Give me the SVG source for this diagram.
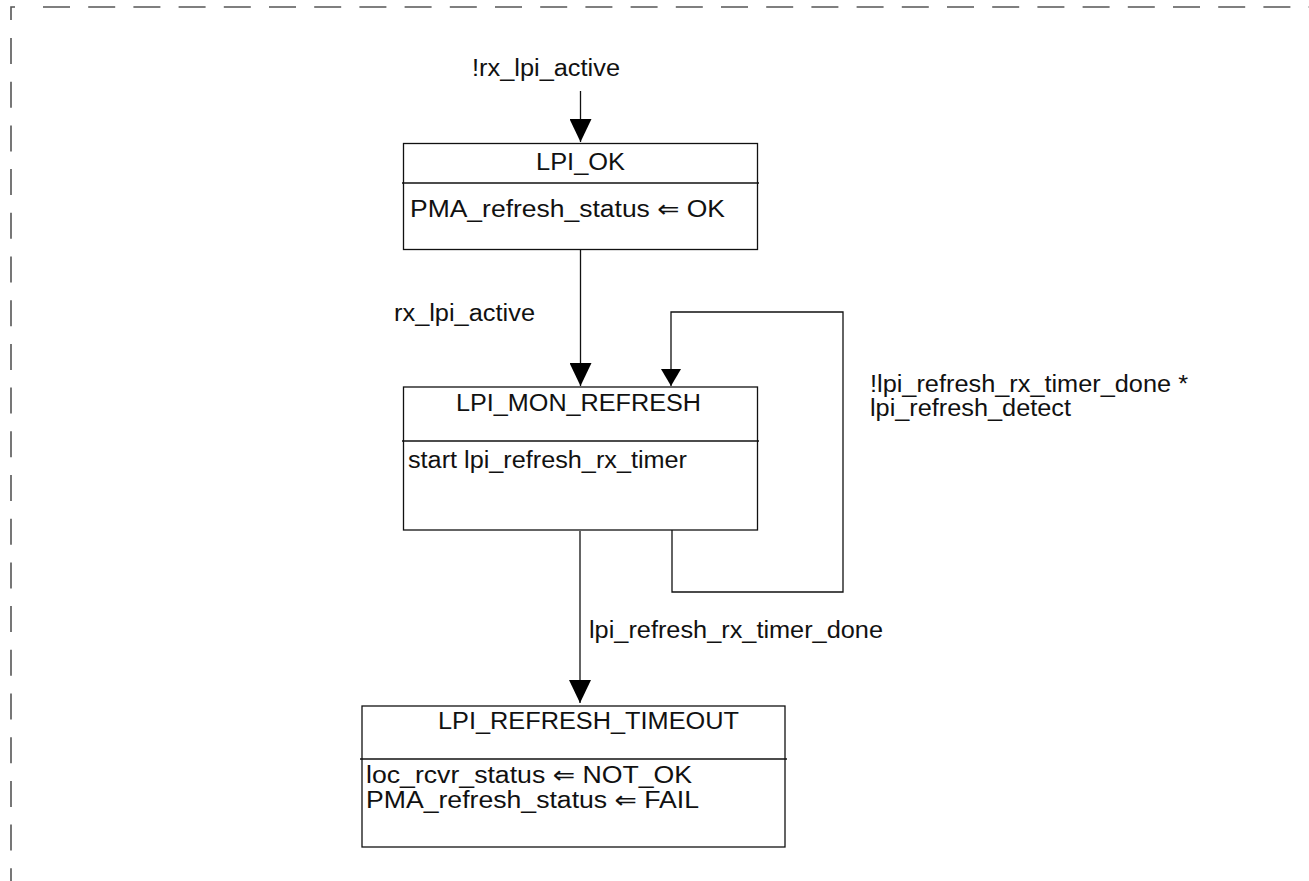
<svg xmlns="http://www.w3.org/2000/svg" width="1309" height="881" viewBox="0 0 1309 881">
<style>
  .frame{fill:none;stroke:#555;stroke-width:1.6}
  .box{fill:#fff;stroke:#111;stroke-width:1.3}
  .div{stroke:#111;stroke-width:1.3}
  .conn{fill:none;stroke:#111;stroke-width:1.3}
  text{font-family:"Liberation Sans",Arial,"DejaVu Sans",sans-serif;font-size:23.5px;fill:#111}
</style>
<defs>
  <marker id="big" viewBox="0 0 23 22" refX="23" refY="11" markerWidth="23" markerHeight="22" markerUnits="userSpaceOnUse" orient="auto">
    <path d="M0,0 L23,11 L0,22 z" fill="#000"/>
  </marker>
  <marker id="small" viewBox="0 0 17 20" refX="17" refY="10" markerWidth="17" markerHeight="20" markerUnits="userSpaceOnUse" orient="auto">
    <path d="M0,0 L17,10 L0,20 z" fill="#000"/>
  </marker>
</defs>
<rect width="1309" height="881" fill="#fff"/>
<g id="frame">
  <path class="frame" d="M15,7 H11 V20"/>
  <path class="frame" d="M43,7 H1309" stroke-dasharray="27 18.2"/>
  <path class="frame" d="M11,38 V881" stroke-dasharray="26 17.7"/>
</g>
<g id="connectors">
  <path class="conn" d="M580.5,91 V142" marker-end="url(#big)"/>
  <path class="conn" d="M580.5,250 V386" marker-end="url(#big)"/>
  <path class="conn" d="M672,530 V592 H843 V312 H671 V386" marker-end="url(#small)"/>
  <path class="conn" d="M580,531 V703" marker-end="url(#big)"/>
  <text x="472" y="76" textLength="148" lengthAdjust="spacingAndGlyphs">!rx_lpi_active</text>
  <text x="394" y="321" textLength="141" lengthAdjust="spacingAndGlyphs">rx_lpi_active</text>
  <text x="870" y="392" textLength="318" lengthAdjust="spacingAndGlyphs">!lpi_refresh_rx_timer_done *</text>
  <text x="870" y="416" textLength="201" lengthAdjust="spacingAndGlyphs">lpi_refresh_detect</text>
  <text x="589" y="638" textLength="294" lengthAdjust="spacingAndGlyphs">lpi_refresh_rx_timer_done</text>
</g>
<g id="LPI_OK">
  <rect class="box" x="403.5" y="143.5" width="354" height="106"/>
  <line class="div" x1="402" y1="183" x2="759" y2="183"/>
  <text x="536" y="170" textLength="89" lengthAdjust="spacingAndGlyphs">LPI_OK</text>
  <text x="410" y="217" textLength="315" lengthAdjust="spacingAndGlyphs">PMA_refresh_status ⇐ OK</text>
</g>
<g id="LPI_MON_REFRESH">
  <rect class="box" x="403.5" y="387" width="354" height="143"/>
  <line class="div" x1="402" y1="441" x2="759" y2="441"/>
  <text x="456" y="411" textLength="245" lengthAdjust="spacingAndGlyphs">LPI_MON_REFRESH</text>
  <text x="408" y="468" textLength="279" lengthAdjust="spacingAndGlyphs">start lpi_refresh_rx_timer</text>
</g>
<g id="LPI_REFRESH_TIMEOUT">
  <rect class="box" x="362" y="706" width="423" height="141"/>
  <line class="div" x1="360" y1="759" x2="787" y2="759"/>
  <text x="438" y="729" textLength="301" lengthAdjust="spacingAndGlyphs">LPI_REFRESH_TIMEOUT</text>
  <text x="366" y="783" textLength="326" lengthAdjust="spacingAndGlyphs">loc_rcvr_status ⇐ NOT_OK</text>
  <text x="366" y="808" textLength="333" lengthAdjust="spacingAndGlyphs">PMA_refresh_status ⇐ FAIL</text>
</g>
</svg>
